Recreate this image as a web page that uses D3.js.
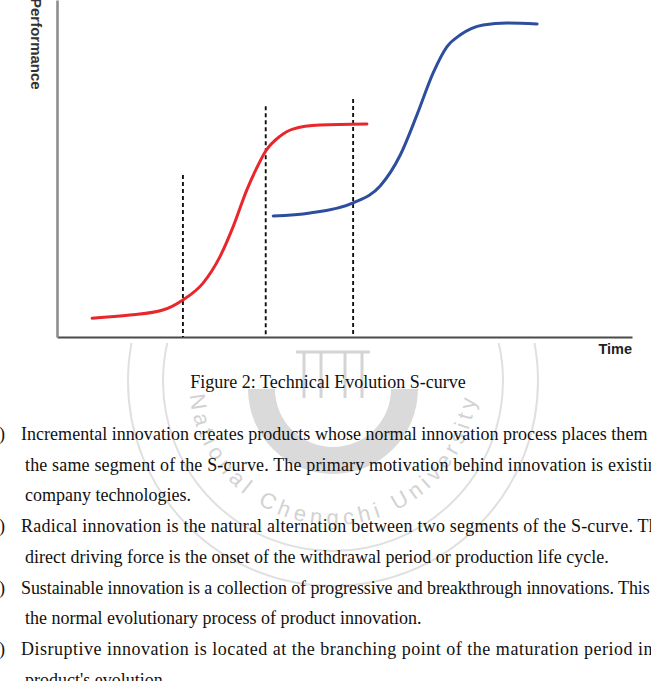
<!DOCTYPE html>
<html>
<head>
<meta charset="utf-8">
<script src="https://cdn.jsdelivr.net/npm/d3@7"></script>
<style>
  html, body { margin: 0; padding: 0; background: #fff; }
  svg { display: block; }
</style>
</head>
<body>
<div id="chart"></div>
<script>
// ---- data (time / performance in arbitrary units 0..10) ----
const redTime  = [0.61, 1.27, 1.84, 2.19, 2.54, 2.83, 3.06, 3.30, 3.48, 3.63, 3.88, 4.10, 4.57, 5.39];
const redPerf  = [0.56, 0.65, 0.80, 1.10, 1.60, 2.37, 3.26, 4.36, 5.04, 5.52, 5.96, 6.17, 6.29, 6.32];
const blueTime = [3.76, 4.40, 5.15, 5.62, 5.97, 6.26, 6.54, 6.78, 7.01, 7.41, 7.83, 8.35];
const bluePerf = [3.59, 3.68, 3.98, 4.48, 5.40, 6.59, 7.83, 8.61, 8.96, 9.26, 9.32, 9.29];
const markerTime = [2.19, 3.63, 5.15];
const markerTop  = [4.81, 6.85, 7.06];

const xLabel = 'Time';
const yLabel = 'Performance';
const caption = 'Figure 2: Technical Evolution S-curve';
const itemMarks = ['(1)', '(2)', '(3)', '(4)'];
const bodyLines = [
  'Incremental innovation creates products whose normal innovation process places them in',
  'the same segment of the S-curve. The primary motivation behind innovation is existing',
  'company technologies.',
  'Radical innovation is the natural alternation between two segments of the S-curve. The',
  'direct driving force is the onset of the withdrawal period or production life cycle.',
  'Sustainable innovation is a collection of progressive and breakthrough innovations. This is',
  'the normal evolutionary process of product innovation.',
  'Disruptive innovation is located at the branching point of the maturation period in a',
  "product's evolution."
];
// which body lines open an item, and which are justified
const itemStarts = [0, 3, 5, 7];
const justified = [0, 1, 3, 5, 7];
const watermarkText = 'National Chengchi University';

// ---- layout ----
const W = 651, H = 681;
const plot = { left: 57, right: 632, top: 0, bottom: 337 };

const svg = d3.select('#chart').append('svg')
  .attr('width', W)
  .attr('height', H);

svg.append('rect').attr('width', W).attr('height', H).attr('fill', '#fff');

// ---- watermark (seal) behind the text ----
const wmC = { x: 333, y: 381 };
const defs = svg.append('defs');
defs.append('clipPath').attr('id', 'wm-clip')
  .append('rect').attr('x', 0).attr('y', 343).attr('width', W).attr('height', H - 343);
defs.append('path')
  .attr('id', 'wm-arc')
  .attr('d', `M${wmC.x - 144 * Math.cos(0.097)},${wmC.y + 144 * Math.sin(0.097)} ` +
             `A144,144 0 0,0 ${wmC.x + 144 * Math.cos(0.097)},${wmC.y + 144 * Math.sin(0.097)}`);

const wm = svg.append('g').attr('clip-path', 'url(#wm-clip)');
[170, 205].forEach(r => {
  wm.append('circle')
    .attr('cx', wmC.x).attr('cy', wmC.y).attr('r', r)
    .attr('fill', 'none').attr('stroke', '#e0e0e0').attr('stroke-width', 2);
});
// grey bowl shape
wm.append('path')
  .attr('d', d3.arc()({ innerRadius: 58, outerRadius: 85, startAngle: Math.PI / 2, endAngle: Math.PI * 1.5 }))
  .attr('transform', `translate(${wmC.x},${wmC.y + 8})`)
  .attr('fill', '#dadada');
// pillars
const pil = wm.append('g').attr('stroke', '#d4d4d4').attr('stroke-width', 3).attr('fill', 'none');
pil.append('path').attr('d', 'M296,352 L370,352');
[304, 321, 345, 362].forEach(px => pil.append('path').attr('d', `M${px},352 L${px},398`));
wm.append('text')
  .attr('font-family', '"Liberation Sans", Arial, sans-serif')
  .attr('font-size', 22)
  .attr('fill', '#d2d2d2')
  .append('textPath')
  .attr('href', '#wm-arc')
  .attr('textLength', 420)
  .attr('lengthAdjust', 'spacing')
  .text(watermarkText);

// ---- scales & axes ----
const x = d3.scaleLinear().domain([0, 10]).range([plot.left, plot.right]);
const y = d3.scaleLinear().domain([0, 10]).range([plot.bottom, plot.top]);

const gx = svg.append('g')
  .attr('transform', `translate(0,${plot.bottom})`)
  .call(d3.axisBottom(x).tickValues([]).tickSizeOuter(0));
gx.select('.domain').attr('stroke', '#4a4a4a').attr('stroke-width', 2.2);

const gy = svg.append('g')
  .attr('transform', `translate(${plot.left},0)`)
  .call(d3.axisLeft(y).tickValues([]).tickSizeOuter(0));
gy.select('.domain').attr('stroke', '#8e8e8e').attr('stroke-width', 2.6);

// dashed phase markers
svg.append('g').selectAll('line')
  .data(markerTime)
  .enter().append('line')
  .attr('x1', d => x(d)).attr('x2', d => x(d))
  .attr('y1', (d, i) => y(markerTop[i]))
  .attr('y2', y(0))
  .attr('stroke', '#111')
  .attr('stroke-width', 1.9)
  .attr('stroke-dasharray', '4,3');

// S-curves
const line = d3.line()
  .x(d => x(d[0]))
  .y(d => y(d[1]))
  .curve(d3.curveMonotoneX);

const redData = redTime.map((t, i) => [t, redPerf[i]]);
const blueData = blueTime.map((t, i) => [t, bluePerf[i]]);

svg.append('path')
  .datum(redData)
  .attr('d', line)
  .attr('fill', 'none')
  .attr('stroke', '#e8262c')
  .attr('stroke-width', 3)
  .attr('stroke-linecap', 'round');

svg.append('path')
  .datum(blueData)
  .attr('d', line)
  .attr('fill', 'none')
  .attr('stroke', '#2d4e9c')
  .attr('stroke-width', 3)
  .attr('stroke-linecap', 'round');

// axis titles
svg.append('text')
  .attr('x', plot.right)
  .attr('y', plot.bottom + 17)
  .attr('text-anchor', 'end')
  .attr('font-family', '"Liberation Sans", Arial, sans-serif')
  .attr('font-weight', 'bold')
  .attr('font-size', 14.5)
  .attr('fill', '#222')
  .text(xLabel);

svg.append('text')
  .attr('transform', 'translate(31,-2) rotate(90)')
  .attr('text-anchor', 'start')
  .attr('font-family', '"Liberation Sans", Arial, sans-serif')
  .attr('font-weight', 'bold')
  .attr('font-size', 15)
  .attr('fill', '#333')
  .text(yLabel);

// ---- caption and body text ----
const serif = '"Liberation Serif", "Times New Roman", serif';
svg.append('text')
  .attr('x', 328)
  .attr('y', 388)
  .attr('text-anchor', 'middle')
  .attr('font-family', serif)
  .attr('font-size', 18)
  .attr('fill', '#111')
  .text(caption);

const textRight = 666;
const lineY = i => 440 + i * 30.7;

const body = svg.append('g')
  .attr('font-family', serif)
  .attr('font-size', 18)
  .attr('fill', '#111');

body.selectAll('text.line')
  .data(bodyLines)
  .enter().append('text')
  .attr('class', 'line')
  .attr('x', (d, i) => itemStarts.includes(i) ? 21 : 25)
  .attr('y', (d, i) => lineY(i))
  .attr('textLength', (d, i) => justified.includes(i) ? textRight - (itemStarts.includes(i) ? 21 : 25) : null)
  .attr('lengthAdjust', 'spacing')
  .text(d => d);

body.selectAll('text.mark')
  .data(itemStarts)
  .enter().append('text')
  .attr('class', 'mark')
  .attr('x', 5)
  .attr('y', d => lineY(d))
  .attr('text-anchor', 'end')
  .text((d, i) => itemMarks[i]);
</script>
</body>
</html>
